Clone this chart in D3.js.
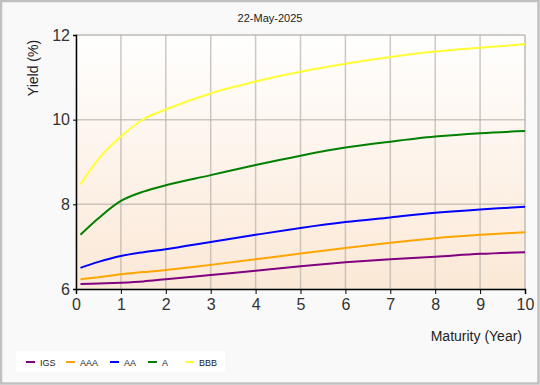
<!DOCTYPE html>
<html>
<head>
<meta charset="utf-8">
<script src="https://cdn.jsdelivr.net/npm/d3@7"></script>
<style>
  html, body { margin: 0; padding: 0; background: #fff; }
  #yieldChart { width: 540px; height: 385px; }
  text { font-family: "Liberation Sans", Arial, sans-serif; }
</style>
</head>
<body>
<div id="yieldChart"></div>
<script>
// maturities (years) and yields (%)
const maturities = [0.1, 0.5, 1, 1.5, 2, 3, 4, 5, 6, 7, 8, 9, 10];
const igs = [6.12, 6.13, 6.15, 6.18, 6.23, 6.33, 6.43, 6.54, 6.63, 6.70, 6.76, 6.83, 6.87];
const aaa = [6.23, 6.28, 6.35, 6.40, 6.45, 6.57, 6.70, 6.84, 6.97, 7.09, 7.20, 7.28, 7.34];
const aa  = [6.50, 6.64, 6.78, 6.87, 6.94, 7.11, 7.28, 7.44, 7.58, 7.69, 7.80, 7.88, 7.94];
const a   = [7.28, 7.67, 8.08, 8.30, 8.45, 8.69, 8.93, 9.15, 9.34, 9.48, 9.60, 9.68, 9.73];
const bbb = [8.47, 9.07, 9.60, 10.01, 10.24, 10.62, 10.90, 11.13, 11.32, 11.48, 11.61, 11.70, 11.78];

const seriesNames = ["IGS", "AAA", "AA", "A", "BBB"];
const seriesColors = ["#800080", "#ffa500", "#0000ff", "#008000", "#ffff33"];
const xTicks = [0, 1, 2, 3, 4, 5, 6, 7, 8, 9, 10];
const yTicks = [6, 8, 10, 12];

function drawYieldChart() {
    const W = 540, H = 385;
    const margin = { top: 35, right: 15, bottom: 96, left: 76 };
    const width = W - margin.left - margin.right;
    const height = H - margin.top - margin.bottom;

    const series = [igs, aaa, aa, a, bbb].map((vals, i) => ({
        name: seriesNames[i],
        color: seriesColors[i],
        values: vals.map((v, j) => ({ m: maturities[j], y: v }))
    }));

    const root = d3.select("#yieldChart").append("svg")
        .attr("width", W)
        .attr("height", H);

    // outer frame
    root.append("rect")
        .attr("x", 1).attr("y", 1)
        .attr("width", W - 2.5).attr("height", H - 2.5)
        .attr("fill", "#f9f9f9")
        .attr("stroke", "#c0c0c0")
        .attr("stroke-width", 2.5);

    const defs = root.append("defs");
    const grad = defs.append("linearGradient")
        .attr("id", "plotBg")
        .attr("x1", 0).attr("y1", 0).attr("x2", 0).attr("y2", 1);
    grad.append("stop").attr("offset", "0%").attr("stop-color", "#ffffff");
    grad.append("stop").attr("offset", "100%").attr("stop-color", "#fbe8d6");

    const svg = root.append("g")
        .attr("transform", `translate(${margin.left},${margin.top})`);

    const x = d3.scaleLinear().domain([0, 10]).range([0, width]);
    const y = d3.scaleLinear().domain([6, 12]).range([height, 0]);

    svg.append("rect")
        .attr("width", width)
        .attr("height", height)
        .attr("fill", "url(#plotBg)")
        .attr("stroke", "#d8d8d8");

    // grid
    svg.append("g")
        .selectAll("line")
        .data(xTicks.slice(1))
        .join("line")
        .attr("x1", d => x(d)).attr("x2", d => x(d))
        .attr("y1", 0).attr("y2", height)
        .attr("stroke", "#b8b0a8")
        .attr("stroke-opacity", 0.7)
        .attr("stroke-width", 1.5);

    svg.append("g")
        .selectAll("line")
        .data(yTicks.slice(1))
        .join("line")
        .attr("x1", 0).attr("x2", width)
        .attr("y1", d => y(d)).attr("y2", d => y(d))
        .attr("stroke", "#b8b0a8")
        .attr("stroke-opacity", 0.7)
        .attr("stroke-width", 1.5);

    // lines
    const line = d3.line()
        .x(d => x(d.m))
        .y(d => y(d.y))
        .curve(d3.curveCatmullRom.alpha(0.5));

    svg.selectAll(".series")
        .data(series)
        .join("path")
        .attr("class", "series")
        .attr("fill", "none")
        .attr("stroke", d => d.color)
        .attr("stroke-width", 2)
        .attr("d", d => line(d.values));

    // axes
    const xAxis = svg.append("g")
        .attr("transform", `translate(0,${height})`)
        .call(d3.axisBottom(x).tickValues(xTicks).tickSize(5).tickPadding(5));
    xAxis.select(".domain").attr("stroke", "#000").attr("stroke-width", 1.5);
    xAxis.selectAll(".tick line").attr("stroke", "#000");
    xAxis.selectAll("text")
        .style("font-size", "16px")
        .style("fill", "#333")
        .style("font-family", "'Liberation Sans', Arial, sans-serif");

    const yAxis = svg.append("g")
        .call(d3.axisLeft(y).tickValues(yTicks).tickFormat(d3.format("d")).tickSize(3).tickPadding(3));
    yAxis.select(".domain").attr("stroke", "#000").attr("stroke-width", 1.5);
    yAxis.selectAll(".tick line").attr("stroke", "#000");
    yAxis.selectAll("text")
        .style("font-size", "16px")
        .style("fill", "#333")
        .style("font-family", "'Liberation Sans', Arial, sans-serif");

    // labels
    root.append("text")
        .attr("x", 270)
        .attr("y", 22)
        .attr("text-anchor", "middle")
        .style("font-size", "11px")
        .style("fill", "#222")
        .text("22-May-2025");

    root.append("text")
        .attr("transform", "translate(38,68) rotate(-90)")
        .attr("text-anchor", "middle")
        .style("font-size", "14px")
        .style("fill", "#222")
        .text("Yield (%)");

    root.append("text")
        .attr("x", 522)
        .attr("y", 341)
        .attr("text-anchor", "end")
        .style("font-size", "14px")
        .style("fill", "#222")
        .text("Maturity (Year)");

    // legend
    const legend = root.append("g").attr("transform", "translate(16,351)");
    legend.append("rect")
        .attr("width", 209).attr("height", 21)
        .attr("fill", "#fff");
    const legendX = [10, 50, 94, 132, 169];
    const items = legend.selectAll(".item")
        .data(series)
        .join("g")
        .attr("class", "item")
        .attr("transform", (d, i) => `translate(${legendX[i]},11)`);
    items.append("line")
        .attr("x1", 0).attr("x2", 9)
        .attr("stroke", d => d.color)
        .attr("stroke-width", 2);
    items.append("text")
        .attr("x", 14)
        .attr("y", 3.5)
        .style("font-size", "9px")
        .style("fill", "#222")
        .text(d => d.name);
}

drawYieldChart();
</script>
</body>
</html>
